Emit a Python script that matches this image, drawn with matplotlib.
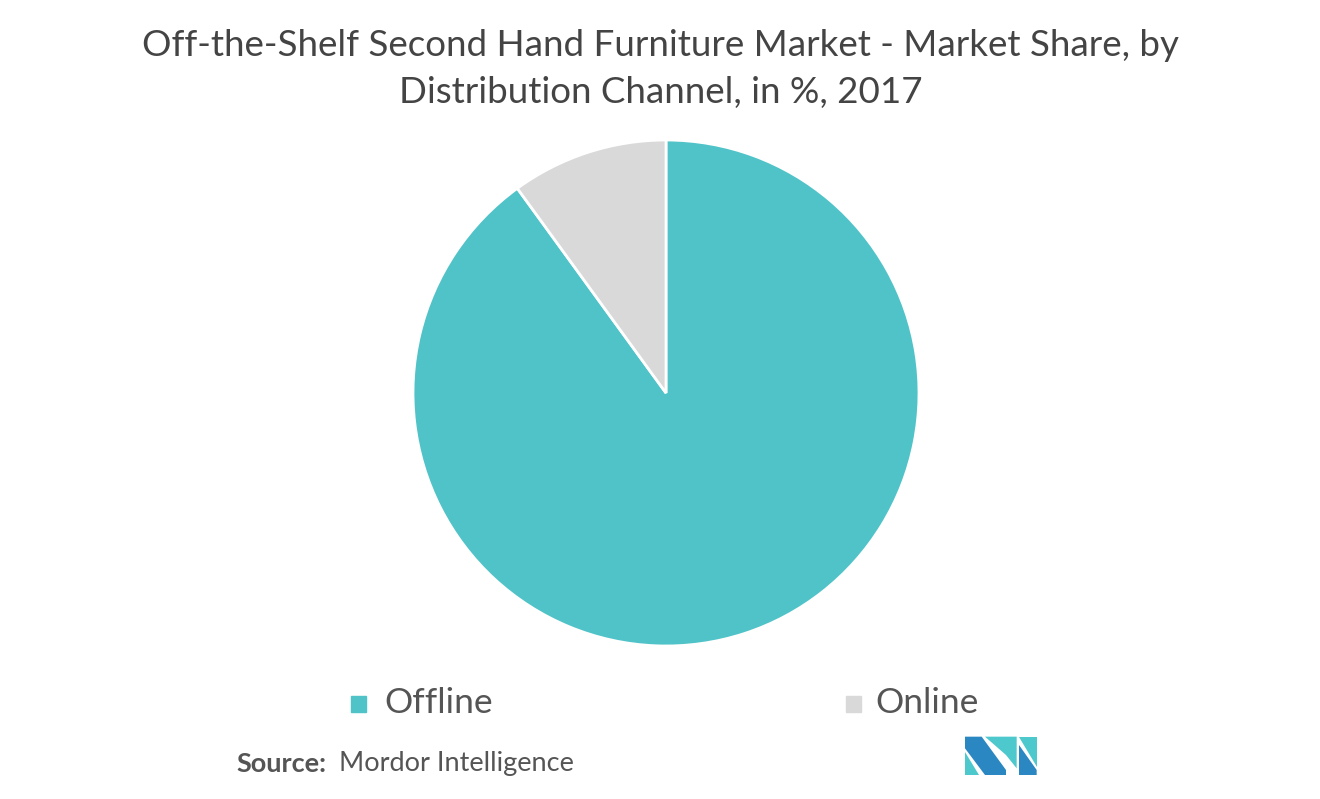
import matplotlib.pyplot as plt
from matplotlib.patches import Polygon

plt.rcParams['font.family'] = ['Lato', 'DejaVu Sans']

channels = ["Offline", "Online"]
shares = [90, 10]
colors = ["#50C3C8", "#D9D9D9"]
text_color = "#555555"

W, H = 1320, 799
fig = plt.figure(figsize=(W / 100, H / 100), dpi=100)

# pie axes: centre (666, 393) px, radius ~253 px
r = 253
ax = fig.add_axes([(666 - r) / W, (H - 393 - r) / H, 2 * r / W, 2 * r / H])
ax.pie(shares, colors=colors, startangle=90, counterclock=False,
       wedgeprops=dict(edgecolor="white", linewidth=2))
ax.set_aspect("equal")
ax.set_xlim(-1, 1)
ax.set_ylim(-1, 1)

fig.text(661 / W, 1 - 45 / H, "Off-the-Shelf Second Hand Furniture Market - Market Share, by",
         ha="center", va="center", fontsize=26.5, color="#444444")
fig.text(661 / W, 1 - 92 / H, "Distribution Channel, in %, 2017",
         ha="center", va="center", fontsize=26.5, color="#444444")

# legend
leg_x = [351, 846]
text_x = [384, 875]
for name, c, x, tx in zip(channels, colors, leg_x, text_x):
    fig.patches.append(plt.Rectangle((x / W, 1 - 712 / H), 15 / W, 16 / H,
                                     transform=fig.transFigure, color=c))
    fig.text(tx / W, 1 - 703 / H, name, ha="left", va="center",
             fontsize=25.5, color=text_color)

# source
fig.text(236 / W, 1 - 764 / H, "Source:", ha="left", va="center",
         fontsize=19.5, fontweight="bold", color=text_color)
fig.text(339 / W, 1 - 764 / H, "Mordor Intelligence", ha="left", va="center",
         fontsize=19.5, color=text_color)

# logo
def px(pts):
    return [((940 + x / 3) / W, 1 - (720 + y / 3) / H) for x, y in pts]

dark = "#2B87C1"
teal = "#4DC8CC"
shapes = [
    ([(75, 95), (75, 165), (118, 165)], teal),
    ([(75, 50), (125, 50), (198, 150), (198, 165), (135, 165), (75, 85)], dark),
    ([(135, 50), (230, 50), (230, 145), (198, 105)], teal),
    ([(237, 50), (290, 50), (290, 140)], teal),
    ([(237, 75), (290, 150), (290, 165), (237, 165)], dark),
]
for pts, c in shapes:
    fig.patches.append(Polygon(px(pts), closed=True, transform=fig.transFigure,
                               facecolor=c, edgecolor="none"))

fig.savefig("out.png", dpi=100, facecolor="white")
